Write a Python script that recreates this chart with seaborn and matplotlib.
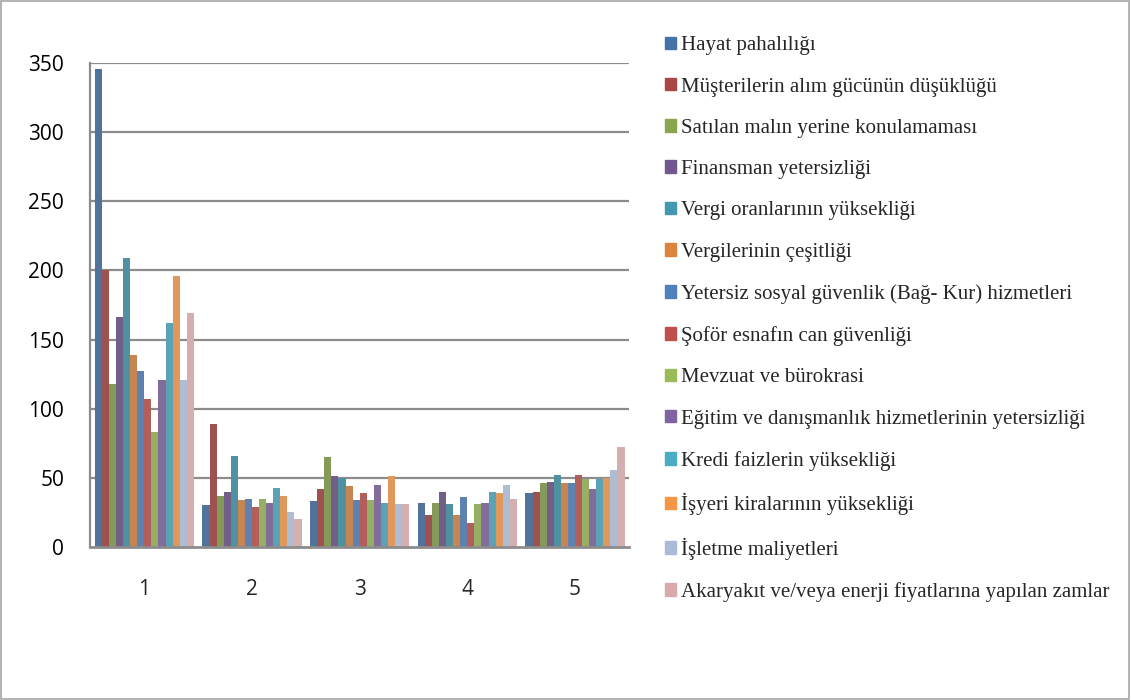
import pandas as pd
import matplotlib
matplotlib.use("Agg")
import matplotlib.pyplot as plt
import seaborn as sns

# kategoriler (x ekseni) ve seriler
categories = ["1", "2", "3", "4", "5"]
series = [
    "Hayat pahalılığı",
    "Müşterilerin alım gücünün düşüklüğü",
    "Satılan malın yerine konulamaması",
    "Finansman yetersizliği",
    "Vergi oranlarının yüksekliği",
    "Vergilerinin çeşitliği",
    "Yetersiz sosyal güvenlik (Bağ- Kur) hizmetleri",
    "Şoför esnafın can güvenliği",
    "Mevzuat ve bürokrasi",
    "Eğitim ve danışmanlık hizmetlerinin yetersizliği",
    "Kredi faizlerin yüksekliği",
    "İşyeri kiralarının yüksekliği",
    "İşletme maliyetleri",
    "Akaryakıt ve/veya enerji fiyatlarına yapılan zamlar",
]
colors = [
    "#4572A7", "#AA4643", "#89A54E", "#71588F", "#4198AF", "#DB843D", "#4F81BD",
    "#C0504D", "#9BBB59", "#8064A2", "#4BACC6", "#F79646", "#AABAD7", "#D9AAA9",
]

# her kategori için seri değerleri (sıra: series listesi)
values_1 = [346, 200, 118, 166, 209, 139, 127, 107, 83, 121, 162, 196, 121, 169]
values_2 = [30, 89, 37, 40, 66, 34, 35, 29, 35, 32, 43, 37, 25, 20]
values_3 = [33, 42, 65, 51, 50, 44, 34, 39, 34, 45, 32, 51, 31, 31]
values_4 = [32, 23, 32, 40, 31, 23, 36, 17, 31, 32, 40, 39, 45, 35]
values_5 = [39, 40, 46, 47, 52, 46, 46, 52, 49, 42, 49, 50, 56, 72]
yticks = [0, 50, 100, 150, 200, 250, 300, 350]

rows = []
for cat, vals in zip(categories, [values_1, values_2, values_3, values_4, values_5]):
    for s, v in zip(series, vals):
        rows.append({"kategori": cat, "seri": s, "deger": v})
df = pd.DataFrame(rows)

sns.set_style("white")
plt.rcParams["font.family"] = ["Open Sans", "DejaVu Sans"]

fig = plt.figure(figsize=(11.31, 7.0), dpi=100)
ax = fig.add_axes([0.080, 0.2186, 0.476, 0.6914])

sns.barplot(data=df, x="kategori", y="deger", hue="seri", palette=colors,
            width=0.92, ax=ax, legend=False, edgecolor="none", linewidth=0)

grid_c = "#8c8c8c"
ax.set_ylim(0, 350)
ax.set_xlim(-0.5, 4.5)
ax.set_yticks(yticks)
for y in yticks[1:]:
    ax.axhline(y, color=grid_c, lw=1.6, zorder=0)
ax.set_axisbelow(True)

for sp in ["top", "right"]:
    ax.spines[sp].set_visible(False)
ax.spines["left"].set_color(grid_c)
ax.spines["bottom"].set_color(grid_c)
ax.spines["left"].set_linewidth(1.6)
ax.spines["bottom"].set_linewidth(2.0)

ax.set_xlabel("")
ax.set_ylabel("")
ax.tick_params(axis="y", labelsize=15, colors=grid_c, labelcolor="black",
               length=5, width=1.5, pad=14)
ax.tick_params(axis="x", which="major", length=0, labelsize=15, pad=23)
ax.set_xticks([-0.5, 0.5, 1.5, 2.5, 3.5, 4.5], minor=True)
ax.tick_params(axis="x", which="minor", length=7, width=1.5, colors=grid_c)

# lejant: sağda, çerçevesiz
handles = [plt.Rectangle((0, 0), 1, 1, color=c) for c in colors]
fig.legend(handles, series, loc="upper left", bbox_to_anchor=(0.571, 0.975),
           frameon=False, prop={"family": "Liberation Serif", "size": 15},
           handlelength=0.55, handleheight=0.55, handletextpad=0.25,
           labelspacing=1.07)

# çerçeve
fig.patches.append(plt.Rectangle((0.001, 0.002), 0.997, 0.996,
                                 transform=fig.transFigure, fill=False,
                                 edgecolor="#a6a6a6", lw=1.2))

fig.savefig("out.png", dpi=100)
